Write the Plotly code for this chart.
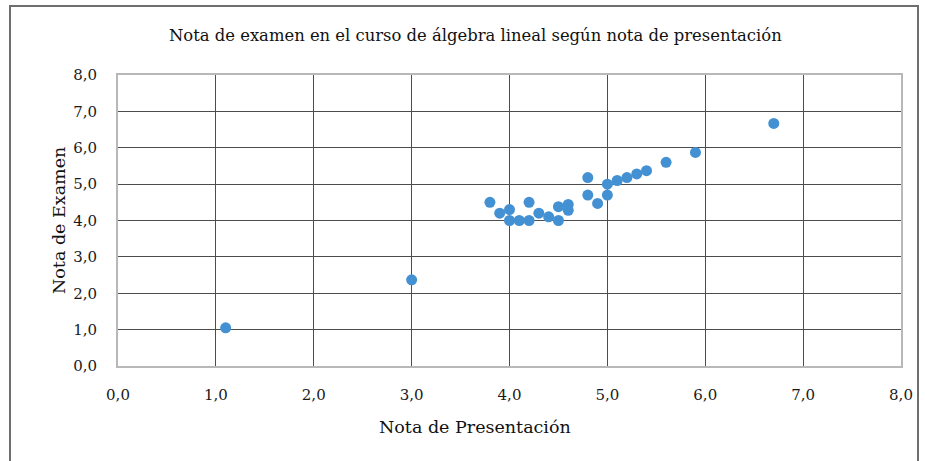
import plotly.graph_objects as go

# Nota de presentación vs nota de examen
nota_presentacion = [1.1, 3.0, 3.8, 3.9, 4.0, 4.0, 4.1, 4.2, 4.2, 4.3, 4.4, 4.5, 4.5,
                     4.6, 4.6, 4.8, 4.8, 4.9, 5.0, 5.0, 5.1, 5.2, 5.3, 5.4, 5.6, 5.9, 6.7]
nota_examen = [1.05, 2.37, 4.5, 4.2, 4.3, 4.0, 4.0, 4.5, 4.0, 4.2, 4.1, 4.0, 4.38,
               4.44, 4.28, 5.18, 4.7, 4.47, 4.7, 5.0, 5.1, 5.18, 5.28, 5.37, 5.6, 5.87, 6.67]

FONT = "DejaVu Serif, serif"

fig = go.Figure()
fig.add_trace(go.Scatter(
    x=nota_presentacion, y=nota_examen, mode="markers",
    marker=dict(color="#4391d2", size=11),
    showlegend=False,
))

# plot area spans x 118..901 px, y 75..366 px
L, R, T, B = 118, 24, 75, 95
W, H = 925, 461
pw, ph = W - L - R, H - T - B


def px_x(px):
    return (px - L) / pw


def px_y(py):
    return (H - B - py) / ph


axis_common = dict(
    range=[0, 8], dtick=1, tickformat=".1f",
    showgrid=True, gridcolor="#4d4d4d", gridwidth=1,
    showline=True, mirror=True, linecolor="#b8b8b8", linewidth=2,
    zeroline=False, ticks="",
    tickfont=dict(family=FONT, size=15, color="#1a1a1a"),
)

fig.update_xaxes(**axis_common, ticklabelstandoff=14)
fig.update_yaxes(**axis_common, ticklabelstandoff=16)


def label(text, x, y, size, angle=0):
    fig.add_annotation(text=text, x=px_x(x), y=px_y(y), xref="paper", yref="paper",
                       xanchor="center", yanchor="middle", textangle=angle,
                       showarrow=False, font=dict(family=FONT, size=size, color="#111"))


label("Nota de examen en el curso de álgebra lineal según nota de presentación", 475, 35, 16.4)
label("Nota de Presentación", 475, 427, 17.5)
label("Nota de Examen", 59, 221, 17.5, angle=-90)

# outer chart frame
fig.add_shape(type="rect", xref="paper", yref="paper",
              x0=px_x(10), x1=px_x(918), y0=px_y(520), y1=px_y(6),
              line=dict(color="#6e6e6e", width=2), layer="below")

fig.update_layout(
    width=W, height=H, separators=",.",
    margin=dict(l=L, r=R, t=T, b=B),
    paper_bgcolor="white", plot_bgcolor="white",
    font=dict(family=FONT),
)

fig.write_html("out.html", config={"displayModeBar": False},
               post_script="document.body.style.margin='0';")
